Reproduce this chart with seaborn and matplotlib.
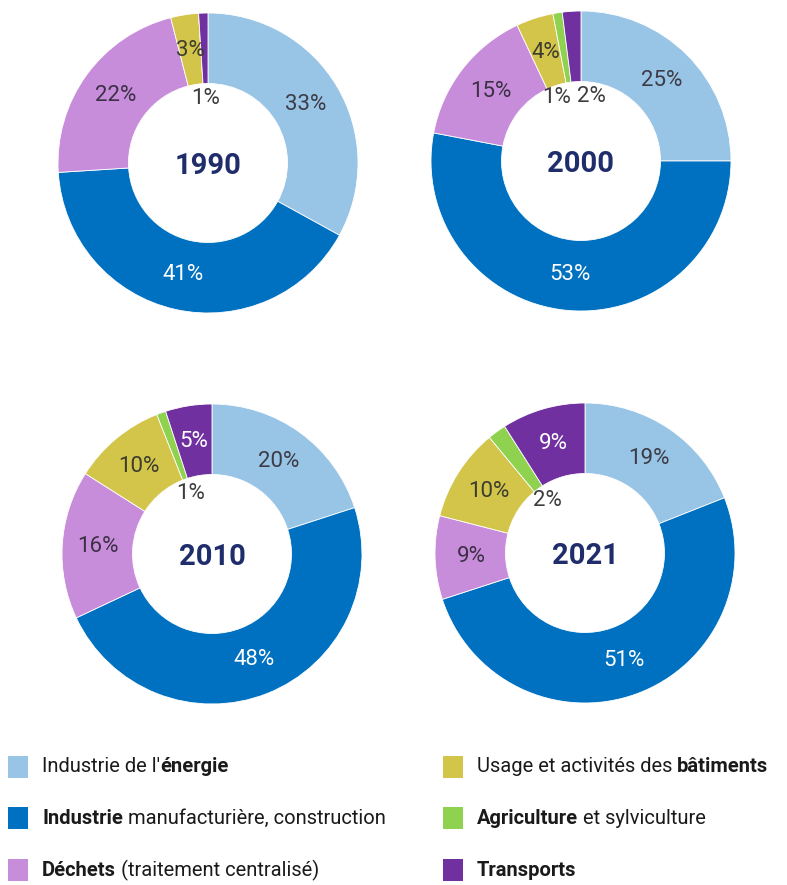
import numpy as np
import matplotlib
matplotlib.use('Agg')
import matplotlib.pyplot as plt
from matplotlib.patches import Rectangle
import seaborn as sns

# ── 資料 ──────────────────────────────────────────────
CATEGORIES = ['energie', 'manufacture', 'dechets', 'batiments', 'agriculture', 'transports']
YEARS = ['1990', '2000', '2010', '2021']
SHARE_1990 = [33, 41, 22, 3, 0, 1]
SHARE_2000 = [25, 53, 15, 4, 1, 2]
SHARE_2010 = [20, 48, 16, 10, 1, 5]
SHARE_2021 = [19, 51, 9, 10, 2, 9]
SHARES = [SHARE_1990, SHARE_2000, SHARE_2010, SHARE_2021]

COLORS = ['#98C4E6', '#0070C0', '#C78DDB', '#D3C54A', '#8ED24F', '#7030A0']
LABEL_COLORS = ['#3C3C46', 'white', '#3C3044', '#3C3C30', '#3C3C3C', 'white']

LEGEND_PIECES = [
    [("Industrie de l'", False), ('énergie', True)],
    [('Industrie', True), (' manufacturière, construction', False)],
    [('Déchets', True), (' (traitement centralisé)', False)],
    [('Usage et activités des ', False), ('bâtiments', True)],
    [('Agriculture', True), (' et sylviculture', False)],
    [('Transports', True)],
]

sns.set_theme(style='white')
FONT = ['Roboto', 'DejaVu Sans']
plt.rcParams['font.family'] = FONT

W, H = 787, 885
fig = plt.figure(figsize=(W / 100, H / 100), dpi=100)
palette = sns.color_palette(COLORS)

# donut centres (px) and radius
CENTERS = [(208, 163), (581, 161), (212, 554), (585, 553)]
R = 150

for (cx, cy), year, vals in zip(CENTERS, YEARS, SHARES):
    ax = fig.add_axes([(cx - R) / W, (H - cy - R) / H, 2 * R / W, 2 * R / H])
    wedges, _ = ax.pie(vals, colors=palette, startangle=90, counterclock=False,
                       radius=1.0, wedgeprops=dict(width=0.47, edgecolor='white', linewidth=0.6))
    ax.set_xlim(-1, 1); ax.set_ylim(-1, 1)
    ax.set_aspect('equal'); ax.axis('off')
    ax.text(0, -0.02, year, ha='center', va='center', fontsize=21,
            fontweight='bold', color='#1F2D6B')

    small = [i for i, v in enumerate(vals) if 0 < v <= 2]
    for i, (w, v) in enumerate(zip(wedges, vals)):
        if v == 0:
            continue
        ang = np.deg2rad((w.theta1 + w.theta2) / 2)
        if v <= 2:
            r = 0.43
            ha = 'center'
            if len(small) > 1:
                ha = 'right' if i == small[0] else 'left'
            col = '#3C3C3C'
        else:
            r = 0.76
            ha = 'center'
            col = LABEL_COLORS[i]
        ax.text(r * np.cos(ang), r * np.sin(ang), f'{v}%', ha=ha, va='center',
                fontsize=16, color=col)

# ── 圖例 ──────────────────────────────────────────────
renderer = fig.canvas.get_renderer()
ROWS_Y = [767, 818, 870]
COLS_X = [8, 443]
for k, pieces in enumerate(LEGEND_PIECES):
    col, row = divmod(k, 3)
    x0, y0 = COLS_X[col], ROWS_Y[row]
    fig.add_artist(Rectangle((x0 / W, (H - y0 - 11) / H), 20 / W, 22 / H,
                             transform=fig.transFigure, color=COLORS[k], lw=0))
    x = (x0 + 34) / W
    for txt, bold in pieces:
        t = fig.text(x, (H - y0) / H, txt, ha='left', va='center', fontsize=14.5,
                     fontweight='bold' if bold else 'normal', color='#1A1A1A')
        bb = t.get_window_extent(renderer=renderer)
        x = bb.x1 / W

fig.savefig('out.png', dpi=100)
plt.close()
